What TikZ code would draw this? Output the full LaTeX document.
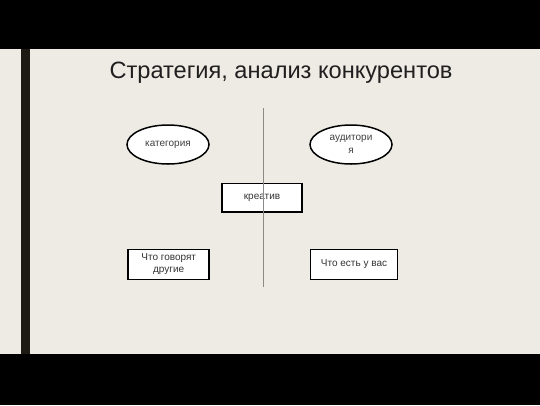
\documentclass[tikz,border=0pt]{standalone}
\usepackage{fontspec}
\setmainfont{Liberation Sans}
\usetikzlibrary{shapes.geometric}
\definecolor{bgc}{HTML}{EEEBE4}
\definecolor{barc}{HTML}{1C1A12}
\definecolor{vline}{HTML}{8A8A86}
\begin{document}
\begin{tikzpicture}[x=1pt,y=-1pt,
  oval/.style={ellipse,draw=black,line width=1.5pt,fill=white,minimum width=82pt,minimum height=39pt,inner sep=0pt,font=\fontsize{10}{11.5}\selectfont,text=black!75,align=center},
  box/.style={rectangle,draw=black,line width=1.5pt,fill=white,inner sep=0pt,font=\fontsize{10}{11.5}\selectfont,text=black!80,align=center}]
\fill[bgc] (0,0) rectangle (540,405);
\fill[black] (0,0) rectangle (540,49);
\fill[black] (0,354) rectangle (540,405);
\fill[barc] (20.5,49) rectangle (30,354);
\node[font=\fontsize{23.6}{27}\selectfont,text=black!88,anchor=base] (title) at (281,78) {Стратегия, анализ конкурентов};
\node[oval] (kat) at (168,144.5) {категория};
\node[oval] (aud) at (351,144.5) {аудитори\\[1pt]я};
\node[box,minimum width=80pt,minimum height=28.5pt] (kre) at (262,197.5) {креатив};
\node[box,minimum width=81pt,minimum height=30pt] (chg) at (168.7,264.3) {Что говорят\\другие};
\node[box,minimum width=86.6pt,minimum height=30pt] (che) at (354,264.3) {Что есть у вас};
\coordinate (vt) at (263.5,108);
\coordinate (vb) at (263.5,287);
\draw[vline,line width=0.8pt] (vt) -- (vb);
\end{tikzpicture}
\end{document}
